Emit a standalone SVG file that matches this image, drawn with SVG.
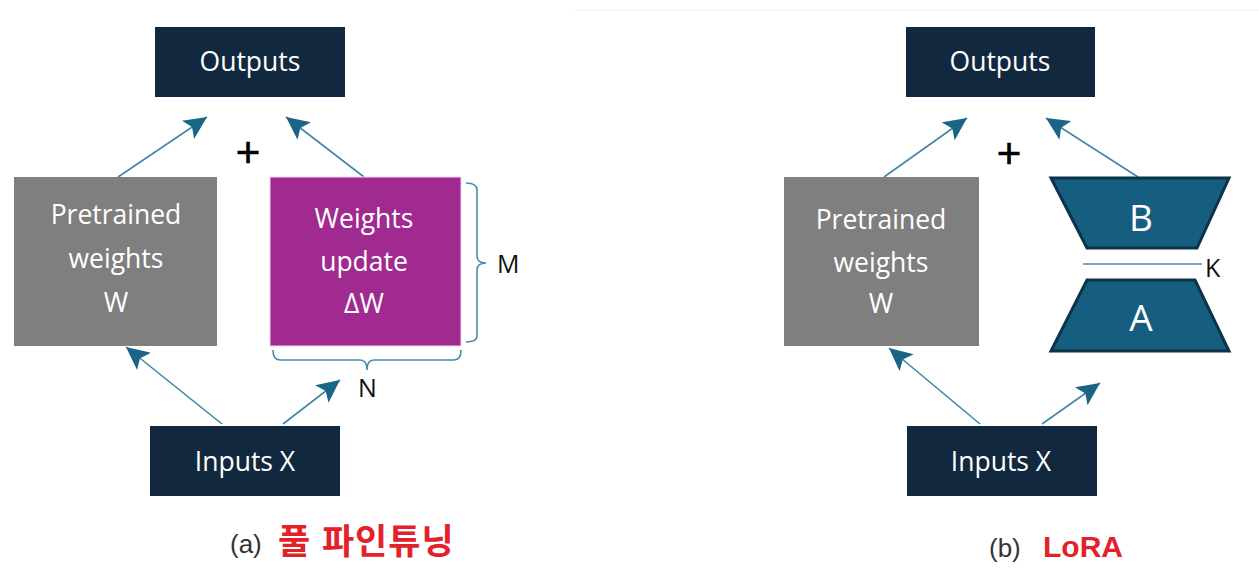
<svg xmlns="http://www.w3.org/2000/svg" width="1259" height="579" viewBox="0 0 1259 579">
<style>
.navy{fill:#12283f}
.gray{fill:#7f7f7f}
.purple{fill:#a02a8f;stroke:#f3d6ee;stroke-width:1}
.trap{fill:#155e80;stroke:#0c3347;stroke-width:3;stroke-linejoin:miter}
.bt{font-family:"Open Sans","Liberation Sans",sans-serif;font-size:26.5px;fill:#ffffff;text-anchor:middle}
.big{font-size:37px}
.lbl{font-family:"Open Sans","Liberation Sans",sans-serif;font-size:25px;fill:#111111}
.plus{font-family:"Liberation Sans",sans-serif;font-size:42px;fill:#000000;text-anchor:middle;stroke:#000000;stroke-width:0.6}
.conn{stroke:#3f87a8;stroke-width:1.6;fill:none}
.brace{stroke:#4a8bab;stroke-width:1.6;fill:none}
.cap{font-family:"Liberation Sans",sans-serif;font-size:26px;fill:#333333}
.red{font-family:"Liberation Sans","Noto Sans CJK KR",sans-serif;font-weight:bold;fill:#e3212b}
</style>
<defs>
<marker id="ah" markerUnits="userSpaceOnUse" markerWidth="24" markerHeight="22" refX="23" refY="11" orient="auto">
<path d="M0,0 L23,11 L0,22 L5,11 z" fill="#1a6585"/>
</marker>
</defs>
<rect width="1259" height="579" fill="#ffffff"/>
<line x1="575" y1="10" x2="1259" y2="10" stroke="#f2f2f2" stroke-width="1"/>

<g id="connectors">
<line class="conn" x1="118" y1="177" x2="207" y2="117" marker-end="url(#ah)"/>
<line class="conn" x1="364" y1="177" x2="286" y2="117" marker-end="url(#ah)"/>
<line class="conn" x1="222" y1="424" x2="126" y2="347" marker-end="url(#ah)"/>
<line class="conn" x1="283" y1="424" x2="340" y2="380" marker-end="url(#ah)"/>
<line class="conn" x1="884" y1="177" x2="967" y2="118" marker-end="url(#ah)"/>
<line class="conn" x1="1138" y1="177" x2="1046" y2="118" marker-end="url(#ah)"/>
<line class="conn" x1="980" y1="424" x2="889" y2="348" marker-end="url(#ah)"/>
<line class="conn" x1="1042" y1="424" x2="1100" y2="383" marker-end="url(#ah)"/>
</g>

<g id="outputs-a">
<rect class="navy" x="155" y="27" width="190" height="70"/>
<text class="bt" x="250" y="71">Outputs</text>
</g>
<g id="pretrained-a">
<rect class="gray" x="14" y="177" width="203" height="169"/>
<text class="bt" x="116" y="224">Pretrained</text>
<text class="bt" x="116" y="268">weights</text>
<text class="bt" x="116" y="312">W</text>
</g>
<g id="update-a">
<rect class="purple" x="270" y="177" width="191" height="169"/>
<text class="bt" x="364" y="228">Weights</text>
<text class="bt" x="364" y="271">update</text>
<text class="bt" x="364" y="313">ΔW</text>
</g>
<g id="plus-a"><text class="plus" x="248" y="167">+</text></g>
<g id="brace-m">
<path class="brace" d="M466,183 Q477,183 477,190 L477,256 Q477,263 486,263 Q477,263 477,270 L477,336 Q477,342 466,342"/>
<text class="lbl" x="497" y="273">M</text>
</g>
<g id="brace-n">
<path class="brace" d="M273,350 Q273,360 280,360 L360,360 Q367,360 367,370 Q367,360 374,360 L454,360 Q461,360 461,350"/>
<text class="lbl" x="358" y="397">N</text>
</g>
<g id="inputs-a">
<rect class="navy" x="150" y="426" width="190" height="70"/>
<text class="bt" x="245" y="471">Inputs X</text>
</g>
<g id="caption-a">
<text class="cap" x="230" y="553">(a)</text>
<text class="red" x="278" y="554" font-size="35" letter-spacing="1">풀 파인튜닝</text>
</g>

<g id="outputs-b">
<rect class="navy" x="906" y="27" width="189" height="70"/>
<text class="bt" x="1000" y="71">Outputs</text>
</g>
<g id="pretrained-b">
<rect class="gray" x="784" y="177" width="195" height="169"/>
<text class="bt" x="881" y="229">Pretrained</text>
<text class="bt" x="881" y="272">weights</text>
<text class="bt" x="881" y="313">W</text>
</g>
<g id="plus-b"><text class="plus" x="1009" y="168">+</text></g>
<g id="matrix-b">
<polygon class="trap" points="1051,178 1229,178 1197,248 1087,248"/>
<text class="bt big" x="1141" y="231">B</text>
</g>
<g id="rank-k">
<line x1="1083" y1="264" x2="1202" y2="264" stroke="#4a8bab" stroke-width="1.6"/>
<text class="lbl" x="1205" y="277">K</text>
</g>
<g id="matrix-a">
<polygon class="trap" points="1087,280 1195,280 1229,351 1051,351"/>
<text class="bt big" x="1141" y="331">A</text>
</g>
<g id="inputs-b">
<rect class="navy" x="907" y="426" width="190" height="70"/>
<text class="bt" x="1001" y="471">Inputs X</text>
</g>
<g id="caption-b">
<text class="cap" x="989" y="557">(b)</text>
<text class="red" x="1043" y="557" font-size="30">LoRA</text>
</g>
</svg>
